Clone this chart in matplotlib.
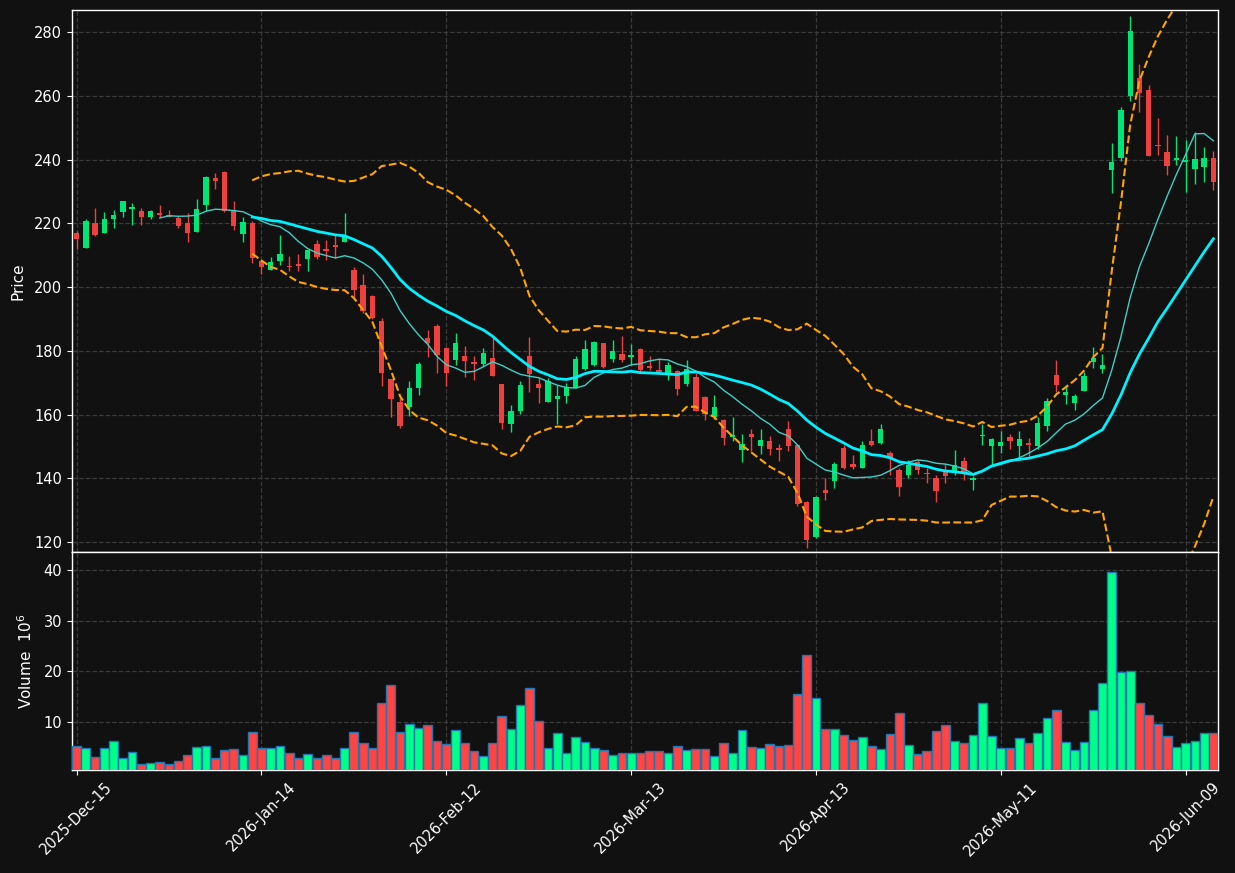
import numpy as np
import pandas as pd
import matplotlib
matplotlib.use("Agg")
import matplotlib.pyplot as plt

# ---- data ----
opens = [217.0, 212.4, 220.1, 217.1, 221.5, 223.4, 224.4, 223.9, 222.1, 223.3,
         222.6, 221.8, 220.1, 217.4, 225.6, 234.3, 236.2, 224.3, 216.5, 220.1,
         208.2, 205.5, 208.2, 206.6, 207.3, 208.9, 213.6, 211.9, 213.1, 214.2,
         205.5, 200.7, 197.2, 189.4, 171.1, 164.0, 162.3, 168.2, 184.0, 187.8,
         181.0, 177.0, 178.45, 176.5, 175.9, 177.8, 169.6, 156.9, 161.0, 178.5,
         169.6, 164.1, 164.8, 165.7, 168.4, 174.4, 175.5, 182.5, 177.5, 179.0,
         178.2, 180.5, 175.3, 173.9, 172.9, 173.7, 169.7, 171.9, 165.6, 159.4,
         158.3, 153.0, 149.0, 153.9, 150.0, 151.7, 149.6, 155.6, 150.4, 132.5,
         121.7, 136.2, 139.1, 149.4, 144.6, 143.2, 151.7, 151.1, 147.9, 142.7,
         141.0, 145.2, 141.6, 140.2, 141.9, 141.9, 145.4, 139.4, 153.4, 150.0,
         150.0, 153.0, 150.0, 151.1, 150.0, 156.4, 172.5, 166.2, 163.7, 167.4,
         176.6, 174.4, 236.8, 240.6, 260.0, 265.5, 261.9, 244.7, 242.4, 239.8,
         239.2, 236.9, 237.7, 240.5]
highs = [217.6, 221.3, 224.8, 223.5, 224.2, 227.0, 226.3, 224.7, 224.3, 225.7,
         224.2, 222.4, 223.2, 227.5, 234.8, 235.7, 236.5, 227.0, 221.9, 220.7,
         208.4, 209.3, 216.3, 209.8, 210.3, 211.5, 214.7, 214.7, 216.3, 223.2,
         206.2, 204.1, 197.6, 190.3, 171.3, 165.3, 170.5, 176.4, 186.5, 188.3,
         181.2, 185.5, 181.4, 178.5, 181.0, 184.8, 169.6, 163.0, 170.5, 184.3,
         171.4, 171.6, 169.3, 169.8, 178.5, 183.4, 183.0, 182.5, 183.4, 184.5,
         182.2, 181.0, 178.5, 177.6, 176.6, 173.9, 177.1, 173.2, 165.8, 166.3,
         158.5, 159.2, 153.9, 155.6, 155.6, 153.4, 150.9, 158.0, 150.6, 132.8,
         134.4, 140.0, 145.0, 150.6, 147.4, 151.7, 155.6, 156.9, 148.5, 143.2,
         145.6, 146.1, 143.2, 141.2, 144.5, 149.0, 146.8, 140.8, 156.9, 152.8,
         154.8, 153.9, 154.8, 152.8, 159.4, 165.3, 177.0, 169.2, 166.5, 173.5,
         181.2, 179.0, 245.2, 256.4, 285.0, 270.1, 263.5, 253.0, 247.7, 247.4,
         246.1, 248.6, 243.9, 242.8]
lows = [211.9, 212.2, 216.0, 216.9, 218.5, 222.0, 219.6, 219.6, 221.2, 222.0,
        221.9, 218.6, 214.1, 217.2, 223.9, 230.7, 223.5, 218.0, 214.1, 207.4,
        204.1, 205.5, 207.0, 205.0, 205.0, 205.0, 208.9, 208.4, 209.2, 214.2,
        197.0, 191.9, 190.0, 169.0, 159.4, 155.9, 159.6, 166.3, 178.2, 173.2,
        169.1, 175.5, 171.9, 171.0, 175.2, 172.1, 155.4, 154.5, 160.2, 167.2,
        163.7, 164.1, 156.9, 163.7, 168.4, 174.0, 175.2, 174.6, 176.6, 176.6,
        175.5, 173.5, 174.1, 173.0, 170.8, 166.3, 168.9, 161.2, 158.3, 158.5,
        150.6, 151.7, 145.2, 148.5, 147.6, 147.2, 145.4, 148.7, 131.2, 118.1,
        121.2, 133.2, 137.0, 143.0, 143.0, 143.2, 150.1, 150.9, 141.0, 134.5,
        140.0, 141.4, 138.6, 132.6, 138.4, 141.2, 139.5, 136.2, 150.4, 144.1,
        148.1, 149.3, 146.5, 146.8, 149.3, 155.0, 167.0, 163.2, 161.3, 167.4,
        174.6, 173.0, 229.4, 239.5, 258.3, 254.8, 241.2, 241.4, 235.0, 238.2,
        229.7, 232.4, 232.8, 230.3]
closes = [215.2, 220.8, 216.2, 221.4, 222.6, 227.0, 225.1, 221.9, 223.9, 222.6,
          222.1, 219.2, 216.8, 224.5, 234.6, 233.4, 223.7, 219.0, 220.4, 209.2,
          206.2, 207.8, 210.4, 206.2, 206.5, 211.5, 209.5, 211.2, 212.7, 216.3,
          199.2, 192.5, 190.3, 173.2, 165.0, 156.5, 168.3, 176.0, 182.6, 178.8,
          172.9, 182.5, 176.9, 176.0, 179.3, 172.1, 157.5, 161.0, 169.3, 172.8,
          168.2, 170.4, 165.8, 168.5, 177.5, 180.6, 182.8, 175.0, 179.8, 177.1,
          178.6, 174.1, 174.5, 173.4, 175.6, 167.9, 174.3, 161.2, 160.2, 162.4,
          152.8, 153.7, 150.9, 153.0, 152.0, 149.3, 148.9, 150.0, 132.1, 120.6,
          134.2, 135.3, 144.6, 143.2, 143.5, 150.4, 150.4, 155.6, 146.3, 137.2,
          144.1, 142.5, 141.3, 136.1, 140.8, 144.3, 141.6, 140.0, 153.7, 152.4,
          151.4, 151.7, 152.4, 150.4, 157.4, 164.3, 169.4, 167.1, 165.7, 172.1,
          177.9, 175.4, 239.3, 255.6, 280.4, 261.0, 241.2, 244.2, 238.1, 240.5,
          240.0, 240.1, 240.5, 232.8]
volumes = [5.16, 4.76, 2.97, 4.76, 6.15, 2.77, 3.96, 1.57, 1.77, 1.97,
           1.57, 2.17, 3.36, 4.96, 5.16, 2.77, 4.36, 4.56, 3.36, 7.94,
           4.76, 4.76, 5.16, 3.76, 2.77, 3.56, 2.77, 3.36, 2.77, 4.76,
           7.94, 5.75, 4.76, 13.7, 17.3, 7.94, 9.54, 8.74, 9.34, 6.15,
           5.55, 8.34, 5.75, 4.16, 3.17, 5.75, 11.1, 8.54, 13.3, 16.7,
           10.1, 4.76, 7.74, 3.76, 6.95, 5.95, 4.76, 4.36, 3.36, 3.76,
           3.76, 3.76, 4.16, 4.16, 3.76, 5.16, 4.36, 4.56, 4.56, 3.17,
           5.75, 3.76, 8.34, 4.96, 4.76, 5.55, 5.16, 5.36, 15.5, 23.3,
           14.7, 8.54, 8.54, 7.35, 6.35, 6.95, 5.16, 4.56, 7.55, 11.7,
           5.36, 3.56, 4.16, 8.14, 9.34, 6.15, 5.75, 7.35, 13.7, 7.15,
           4.76, 4.76, 6.75, 5.75, 7.74, 10.7, 12.3, 5.95, 4.36, 5.95,
           12.3, 17.7, 39.6, 19.9, 20.1, 13.7, 11.3, 9.54, 7.15, 4.96,
           5.75, 6.15, 7.74, 7.74]
tick_labels = ["2025-Dec-15", "2026-Jan-14", "2026-Feb-12", "2026-Mar-13",
               "2026-Apr-13", "2026-May-11", "2026-Jun-09"]
tick_every = 20

# ---- derived indicators ----
s = pd.Series(closes)
ma_short = s.rolling(10).mean()
ma_long = s.rolling(20).mean()
sd = s.rolling(20).std()
bb_up = ma_long + 2 * sd
bb_dn = ma_long - 2 * sd

BG = "#111111"
UP, DOWN = "#00e676", "#ef4040"
VUP, VDOWN = "#00ff88", "#ff4444"
GRID = "#3a3a3a"

n = len(closes)
x = np.arange(n)
o = np.array(opens); c = np.array(closes)
h = np.array(highs); l = np.array(lows)
up = c >= o
cols = np.where(up, UP, DOWN)
vcols = np.where(up, VUP, VDOWN)

fig = plt.figure(figsize=(12.35, 8.73), dpi=100, facecolor=BG)
W, H = 1235, 873
ax = fig.add_axes([72 / W, 1 - 552 / H, 1146 / W, 542 / H], facecolor=BG)
axv = fig.add_axes([72 / W, 1 - 770 / H, 1146 / W, 218 / H], facecolor=BG, sharex=ax)

# candles
ax.vlines(x, l, h, colors=cols, linewidth=1.0, zorder=3)
body = np.maximum(np.abs(c - o), 0.25)
ax.bar(x, body, bottom=np.minimum(o, c), width=0.58, color=cols, linewidth=0, zorder=4)

# overlays
ax.plot(x, ma_short, color="#3fcfc5", linewidth=1.0, zorder=5)
ax.plot(x, ma_long, color="#00f0ff", linewidth=2.0, zorder=5)
ax.plot(x, bb_up, color="#ffa500", linewidth=1.5, linestyle="--", zorder=5)
ax.plot(x, bb_dn, color="#ffa500", linewidth=1.5, linestyle="--", zorder=5)

# volume
axv.bar(x, volumes, width=0.95, color=vcols, edgecolor="#1f77b4", linewidth=1.0, zorder=3)

ax.set_xlim(-0.5, n - 0.5)
ax.set_ylim(116.9, 286.9)
vmin, vmax = min(volumes), max(volumes)
axv.set_ylim(0.3 * vmin, 1.1 * vmax)

ticks = np.arange(0, n, tick_every)[:len(tick_labels)]
axv.set_xticks(ticks)
axv.set_xticklabels(tick_labels, rotation=45, ha="center")
ax.tick_params(axis="x", labelbottom=False, length=0)
ax.set_yticks(np.arange(120, 281, 20))
axv.set_yticks([10, 20, 30, 40])

for a in (ax, axv):
    a.grid(True, color=GRID, linestyle="--", linewidth=0.9)
    a.set_axisbelow(True)
    a.tick_params(colors="white", labelsize=10.5)
    for sp in a.spines.values():
        sp.set_color("white")
        sp.set_linewidth(1.0)

ax.set_ylabel("Price", color="white", fontsize=11, labelpad=6)
axv.set_ylabel("Volume  $10^{6}$", color="white", fontsize=11, labelpad=6)

fig.savefig("out.png", dpi=100, facecolor=BG)
